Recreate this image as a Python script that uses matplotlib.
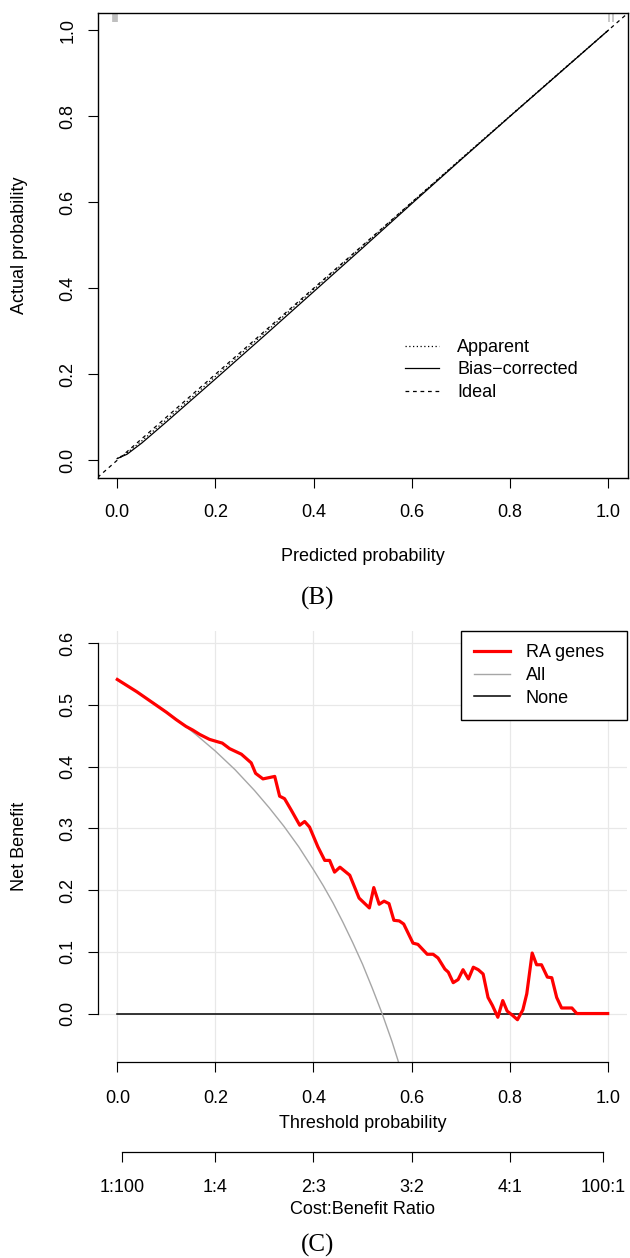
import matplotlib
matplotlib.use("Agg")
import matplotlib.pyplot as plt

plt.rcParams['font.family'] = ['Liberation Sans', 'DejaVu Sans']

# ---------------- data: calibration (B) ----------------
pred_grid = [0.0, 0.02, 0.05, 0.10, 0.15, 0.20, 0.30, 0.40, 0.50, 0.60, 0.70, 0.80, 0.90, 1.00]
bias_corrected = [0.004, 0.014, 0.040, 0.089, 0.139, 0.189, 0.290, 0.392, 0.494, 0.597, 0.699, 0.800, 0.900, 1.000]
apparent = [0.004, 0.017, 0.045, 0.094, 0.144, 0.195, 0.296, 0.397, 0.498, 0.600, 0.701, 0.801, 0.901, 1.000]
ideal = [-0.04, 1.04]
rug_pred = [-0.008, -0.006, -0.004, -0.002, 0.0, 1.002, 1.010]
calib_ticks = [0.0, 0.2, 0.4, 0.6, 0.8, 1.0]
calib_ticklabels = ['0.0', '0.2', '0.4', '0.6', '0.8', '1.0']
calib_legend = ['Apparent', 'Bias\u2212corrected', 'Ideal']

# ---------------- data: decision curve (C) ----------------
thr_model = [0.00, 0.02, 0.04, 0.06, 0.08, 0.10, 0.12, 0.14, 0.154, 0.168, 0.188, 0.205, 0.214,
             0.229, 0.253, 0.273, 0.282, 0.297, 0.321, 0.331, 0.341, 0.355, 0.372, 0.382, 0.392,
             0.409, 0.423, 0.433, 0.443, 0.454, 0.474, 0.493, 0.514, 0.523, 0.534, 0.544, 0.554,
             0.564, 0.575, 0.584, 0.603, 0.613, 0.632, 0.644, 0.654, 0.668, 0.675, 0.685, 0.695,
             0.705, 0.716, 0.726, 0.736, 0.746, 0.756, 0.765, 0.776, 0.786, 0.795, 0.806, 0.816,
             0.827, 0.835, 0.846, 0.855, 0.865, 0.877, 0.886, 0.896, 0.906, 0.927, 0.937, 1.00]
nb_model = [0.541, 0.531, 0.521, 0.510, 0.499, 0.488, 0.476, 0.465, 0.459, 0.452, 0.444, 0.440, 0.438,
            0.429, 0.420, 0.406, 0.389, 0.380, 0.384, 0.352, 0.348, 0.329, 0.305, 0.311, 0.302,
            0.270, 0.248, 0.248, 0.229, 0.237, 0.224, 0.187, 0.171, 0.204, 0.177, 0.182, 0.178,
            0.151, 0.150, 0.145, 0.114, 0.112, 0.096, 0.096, 0.090, 0.072, 0.067, 0.050, 0.055,
            0.071, 0.056, 0.075, 0.071, 0.064, 0.026, 0.013, -0.006, 0.021, 0.004, -0.003, -0.010,
            0.006, 0.032, 0.098, 0.079, 0.079, 0.059, 0.058, 0.026, 0.009, 0.009, 0.000, 0.000]
thr_all = [0.0, 0.04, 0.08, 0.12, 0.16, 0.20, 0.24, 0.28, 0.31, 0.34, 0.37, 0.40, 0.42, 0.44,
           0.46, 0.48, 0.50, 0.52, 0.54, 0.56, 0.578]
nb_all = [0.540, 0.521, 0.500, 0.477, 0.452, 0.425, 0.395, 0.361, 0.333, 0.303, 0.270, 0.233, 0.207,
          0.179, 0.148, 0.115, 0.080, 0.041, 0.000, -0.045, -0.090]
thr_none = [0.0, 1.0]
nb_none = [0.0, 0.0]
dca_xticks = [0.0, 0.2, 0.4, 0.6, 0.8, 1.0]
dca_xticklabels = ['0.0', '0.2', '0.4', '0.6', '0.8', '1.0']
dca_yticks = [0.0, 0.1, 0.2, 0.3, 0.4, 0.5, 0.6]
dca_yticklabels = ['0.0', '0.1', '0.2', '0.3', '0.4', '0.5', '0.6']
cb_ticks = [1 / 101, 0.2, 0.4, 0.6, 0.8, 100 / 101]
cb_ticklabels = ['1:100', '1:4', '2:3', '3:2', '4:1', '100:1']
dca_legend = ['RA genes', 'All', 'None']

W, H = 630, 1258
fig = plt.figure(figsize=(W / 100, H / 100), dpi=100)
fig.patch.set_facecolor('white')


def fx(px):
    return px / W


def fy(py):
    return 1 - py / H


FS = 13

# ======================= panel B =======================
L1, R1, T1, B1 = 97.5, 628.0, 13.0, 477.5
ax1 = fig.add_axes([fx(L1), fy(B1), (R1 - L1) / W, (B1 - T1) / H])
ax1.set_xlim(-0.04, 1.04)
ax1.set_ylim(-0.04, 1.04)
for s in ax1.spines.values():
    s.set_linewidth(1.0)
    s.set_color('black')

l_app, = ax1.plot(pred_grid, apparent, color='black', lw=0.9, linestyle=(0, (1, 2)))
l_bias, = ax1.plot(pred_grid, bias_corrected, color='black', lw=0.9, linestyle='-')
l_ideal, = ax1.plot(ideal, ideal, color='black', lw=0.9, linestyle=(0, (3, 3)))
ax1.vlines(rug_pred, 0.98, 1.0, transform=ax1.get_xaxis_transform(), color='#BEBEBE', lw=1.2)

ax1.set_xticks(calib_ticks)
ax1.set_xticklabels(calib_ticklabels)
ax1.set_yticks(calib_ticks)
ax1.set_yticklabels(calib_ticklabels)
ax1.tick_params(axis='both', direction='out', length=7.5, width=0.8, labelsize=FS, color='black')
ax1.tick_params(axis='x', pad=11.7)
ax1.tick_params(axis='y', pad=7.8, labelrotation=90)
for lab in ax1.get_yticklabels():
    lab.set_va('center')

ax1.set_xlabel('Predicted probability', fontsize=FS)
ax1.xaxis.label.set_va('center')
ax1.xaxis.set_label_coords(fx((L1 + R1) / 2), fy(556.7), transform=fig.transFigure)
ax1.set_ylabel('Actual probability', fontsize=FS)
ax1.yaxis.label.set_va('center')
ax1.yaxis.label.set_ha('center')
ax1.yaxis.set_label_coords(fx(20), fy((T1 + B1) / 2), transform=fig.transFigure)

leg1 = ax1.legend([l_app, l_bias, l_ideal], calib_legend, loc='upper left',
                  bbox_to_anchor=((405 - L1) / (R1 - L1), (B1 - 339) / (B1 - T1)),
                  frameon=False, borderpad=0, borderaxespad=0, handlelength=1.9,
                  handletextpad=1.0, labelspacing=0.3, fontsize=FS)

fig.text(fx(318), fy(598), '(B)', ha='center', va='center',
         family=['Liberation Serif', 'DejaVu Serif'], fontsize=18)

# ======================= panel C =======================
L2, R2, T2, B2 = 97.7, 627.3, 630.7, 1061.7
ax2 = fig.add_axes([fx(L2), fy(B2), (R2 - L2) / W, (B2 - T2) / H])
ax2.set_xlim(-0.04, 1.04)
ax2.set_ylim(-0.078, 0.620)
ax2.set_axisbelow(True)
ax2.set_xticks(dca_xticks)
ax2.set_xticklabels(dca_xticklabels)
ax2.set_yticks(dca_yticks)
ax2.set_yticklabels(dca_yticklabels)
ax2.grid(True, color='#E8E8E8', lw=0.9)
ax2.spines['top'].set_visible(False)
ax2.spines['right'].set_visible(False)
ax2.spines['left'].set_bounds(0.0, 0.6)
ax2.spines['bottom'].set_bounds(0.0, 1.0)
for s in ('left', 'bottom'):
    ax2.spines[s].set_linewidth(0.9)
    ax2.spines[s].set_color('black')

l_none, = ax2.plot(thr_none, nb_none, color='black', lw=1.1)
l_all, = ax2.plot(thr_all, nb_all, color='#A6A6A6', lw=1.0)
l_model, = ax2.plot(thr_model, nb_model, color='red', lw=2.3)

ax2.tick_params(axis='both', direction='out', length=7.5, width=0.8, labelsize=FS, color='black')
ax2.tick_params(axis='x', pad=13)
ax2.tick_params(axis='y', pad=7.8, labelrotation=90)
for lab in ax2.get_yticklabels():
    lab.set_va('center')

ax2.set_xlabel('Threshold probability', fontsize=FS)
ax2.xaxis.label.set_va('center')
ax2.xaxis.set_label_coords(fx((L2 + R2) / 2), fy(1123), transform=fig.transFigure)
ax2.set_ylabel('Net Benefit', fontsize=FS)
ax2.yaxis.label.set_va('center')
ax2.yaxis.label.set_ha('center')
ax2.yaxis.set_label_coords(fx(20), fy((T2 + B2) / 2), transform=fig.transFigure)

x0 = (460.8 - L2) / (R2 - L2)
leg2 = ax2.legend([l_model, l_all, l_none], dca_legend, loc='upper left',
                  bbox_to_anchor=(x0, 0, 1 - x0, 1), mode='expand',
                  frameon=True, fancybox=False, borderpad=0.75, borderaxespad=0,
                  handlelength=1.95, handletextpad=0.9, labelspacing=0.32, fontsize=FS)
leg2.get_frame().set_edgecolor('black')
leg2.get_frame().set_linewidth(1.0)
leg2.get_frame().set_alpha(None)
leg2.get_frame().set_facecolor('white')

# cost:benefit axis
ax3 = fig.add_axes([fx(L2), fy(1151.7), (R2 - L2) / W, 0.0001])
ax3.set_xlim(-0.04, 1.04)
ax3.patch.set_visible(False)
for s in ('top', 'left', 'right'):
    ax3.spines[s].set_visible(False)
ax3.spines['bottom'].set_bounds(cb_ticks[0], cb_ticks[-1])
ax3.spines['bottom'].set_linewidth(0.9)
ax3.set_yticks([])
ax3.set_xticks(cb_ticks)
ax3.set_xticklabels(cb_ticklabels)
ax3.tick_params(axis='x', direction='out', length=7.5, width=0.8, labelsize=FS, pad=11.9)
ax3.set_xlabel('Cost:Benefit Ratio', fontsize=FS)
ax3.xaxis.label.set_va('center')
ax3.xaxis.set_label_coords(fx((L2 + R2) / 2), fy(1210), transform=fig.transFigure)

fig.text(fx(318), fy(1245), '(C)', ha='center', va='center',
         family=['Liberation Serif', 'DejaVu Serif'], fontsize=18)

fig.savefig('out.png', dpi=100, facecolor='white')
